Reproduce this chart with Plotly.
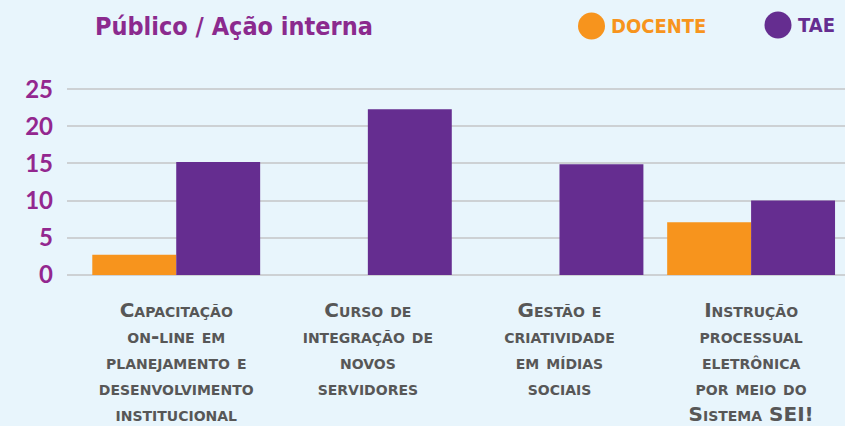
import plotly.graph_objects as go

categories = [
    "Capacitação<br>on-line em<br>planejamento e<br>desenvolvimento<br>institucional",
    "Curso de<br>integração de<br>novos<br>servidores",
    "Gestão e<br>criatividade<br>em mídias<br>sociais",
    "Instrução<br>processual<br>eletrônica<br>por meio do<br>Sistema SEI!",
]
docente = [2.7, 0, 0, 7.1]
tae = [15.2, 22.3, 14.9, 10.0]
y_ticks = [0, 5, 10, 15, 20, 25]

ORANGE = "#f7941d"
PURPLE = "#652d90"
TICK_PURPLE = "#93278f"
COND = "DejaVu Sans Condensed, Liberation Sans Narrow, sans-serif"

W, H = 845, 426
ML, MR, MT, MB = 67, 0, 88, 150
PW, PH = W - ML - MR, H - MT - MB

def px_x(p):
    return (p - ML) / PW

def px_y(p):
    return (H - MB - p) / PH

fig = go.Figure()
fig.add_trace(go.Bar(x=categories, y=docente, name="DOCENTE",
                     marker=dict(color=ORANGE, line=dict(width=0)), showlegend=False))
fig.add_trace(go.Bar(x=categories, y=tae, name="TAE",
                     marker=dict(color=PURPLE, line=dict(width=0)), showlegend=False))

fig.update_layout(
    width=W, height=H,
    margin=dict(l=ML, r=MR, t=MT, b=MB),
    paper_bgcolor="#e8f5fc",
    plot_bgcolor="rgba(0,0,0,0)",
    barmode="group",
    bargap=0.124,
    bargroupgap=0.0,
    title=dict(
        text="<b>Público / Ação interna</b>",
        font=dict(family=COND, size=25, color="#8b2a8e"),
        xref="container", yref="container",
        x=95 / W, y=1 - 26 / H, xanchor="left", yanchor="middle",
    ),
    xaxis=dict(
        range=[-0.57, 3.49],
        showgrid=False, zeroline=False, showline=False,
        tickfont=dict(family="DejaVu Sans, sans-serif", size=20, color="#575757",
                      variant="small-caps", weight=700),
        ticklabelstandoff=20,
        fixedrange=True,
    ),
    yaxis=dict(
        range=[-0.15, 25.15],
        tickvals=y_ticks,
        showgrid=True, gridcolor="#cdd1d4", gridwidth=2,
        zeroline=True, zerolinecolor="#cdd1d4", zerolinewidth=2,
        showline=False,
        tickfont=dict(family="Lato, sans-serif", size=24, color=TICK_PURPLE, weight=700),
        ticklabelstandoff=13,
        fixedrange=True,
    ),
    shapes=[
        dict(type="circle", xref="paper", yref="paper",
             xsizemode="pixel", ysizemode="pixel",
             xanchor=px_x(591.5), yanchor=px_y(26),
             x0=-13.5, x1=13.5, y0=-13.5, y1=13.5,
             fillcolor=ORANGE, line=dict(width=0)),
        dict(type="circle", xref="paper", yref="paper",
             xsizemode="pixel", ysizemode="pixel",
             xanchor=px_x(778), yanchor=px_y(25),
             x0=-13.5, x1=13.5, y0=-13.5, y1=13.5,
             fillcolor=PURPLE, line=dict(width=0)),
    ],
    annotations=[
        dict(text="<b>DOCENTE</b>", xref="paper", yref="paper",
             x=px_x(609), y=px_y(26), xanchor="left", yanchor="middle",
             showarrow=False,
             font=dict(family=COND, size=20, color=ORANGE)),
        dict(text="<b>TAE</b>", xref="paper", yref="paper",
             x=px_x(796), y=px_y(25), xanchor="left", yanchor="middle",
             showarrow=False,
             font=dict(family=COND, size=20, color=PURPLE)),
    ],
)

fig.write_html("out.html", config={"displayModeBar": False},
               post_script="document.body.style.margin='0';")
